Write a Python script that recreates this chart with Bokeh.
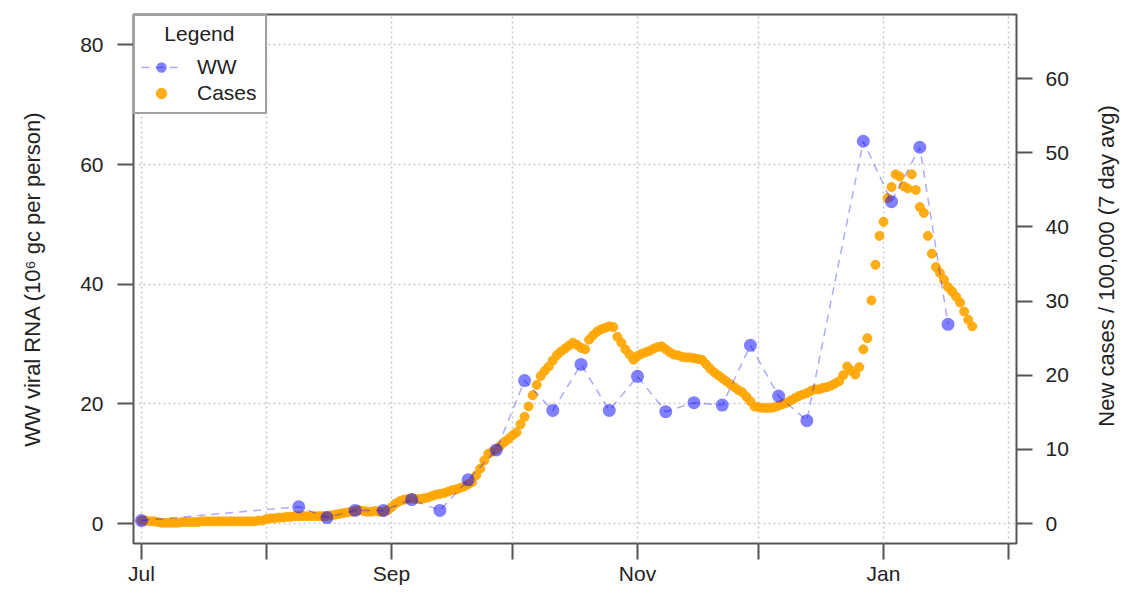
import math
import pandas as pd
from bokeh.plotting import figure
from bokeh.layouts import row
from bokeh.models import Range1d, LinearAxis, FixedTicker, Legend, LegendItem
from bokeh.core.properties import value
from bokeh.embed import file_html
from bokeh.resources import INLINE

# ---------------- data ----------------
ww_dates = ["2020-07-01", "2020-08-09", "2020-08-16", "2020-08-23", "2020-08-30",
            "2020-09-06", "2020-09-13", "2020-09-20", "2020-09-27", "2020-10-04",
            "2020-10-11", "2020-10-18", "2020-10-25", "2020-11-01", "2020-11-08",
            "2020-11-15", "2020-11-22", "2020-11-29", "2020-12-06", "2020-12-13",
            "2020-12-27", "2021-01-03", "2021-01-10", "2021-01-17"]
ww_values = [0.5, 2.8, 1.0, 2.2, 2.2,
             4.0, 2.2, 7.3, 12.3, 23.9,
             18.9, 26.6, 18.9, 24.6, 18.7,
             20.2, 19.8, 29.8, 21.3, 17.2,
             63.9, 53.8, 62.9, 33.3]

cases_start = "2020-07-01"
cases_values = [
    0.4, 0.4, 0.3, 0.3, 0.2, 0.1, 0.1, 0.1, 0.1, 0.1,
    0.2, 0.2, 0.2, 0.2, 0.2, 0.3, 0.3, 0.3, 0.3, 0.3,
    0.3, 0.3, 0.3, 0.3, 0.3, 0.3, 0.3, 0.3, 0.3, 0.4,
    0.4, 0.6, 0.7, 0.7, 0.8, 0.8, 0.9, 0.9, 1.0, 1.0,
    1.0, 1.0, 1.0, 1.0, 1.0, 1.0, 1.0, 1.1, 1.2, 1.3,
    1.4, 1.5, 1.6, 1.7, 1.8, 1.7, 1.6, 1.6, 1.7, 1.6,
    1.6, 1.8, 2.2, 2.7, 3.0, 3.2, 3.3, 3.4, 3.3, 3.3,
    3.4, 3.5, 3.7, 3.9, 4.0, 4.1, 4.3, 4.5, 4.6, 4.8,
    5.0, 5.3, 5.6, 6.5, 7.4, 8.5, 9.4, 9.7, 10.0, 10.5,
    11.0, 11.4, 11.9, 12.3, 13.4, 14.4, 15.8, 17.3, 18.7, 19.9,
    20.6, 21.2, 22.0, 22.7, 23.2, 23.6, 24.0, 24.4, 24.1, 23.7,
    23.5, 24.8, 25.4, 25.9, 26.2, 26.4, 26.6, 26.5, 25.2, 24.4,
    23.5, 22.8, 22.1, 22.6, 22.9, 23.1, 23.3, 23.6, 23.8, 23.9,
    23.5, 23.1, 22.8, 22.7, 22.5, 22.4, 22.4, 22.3, 22.2, 22.1,
    21.5, 20.9, 20.4, 20.0, 19.6, 19.2, 18.8, 18.4, 18.0, 17.7,
    17.1, 16.5, 15.8, 15.7, 15.6, 15.6, 15.6, 15.7, 15.9, 16.1,
    16.3, 16.6, 16.9, 17.2, 17.4, 17.6, 17.9, 18.1, 18.1, 18.3,
    18.4, 18.6, 18.9, 19.2, 20.0, 21.2, 20.6, 20.1, 21.1, 23.5,
    25.0, 30.1, 34.9, 38.8, 40.7, 43.9, 45.4, 47.1, 46.8, 45.5,
    45.2, 47.1, 45.0, 42.7, 41.9, 38.8, 36.4, 34.6, 33.8, 32.9,
    31.9, 31.3, 30.6, 29.8, 28.6, 27.5, 26.6,
]

month_ticks = ["2020-07-01", "2020-08-01", "2020-09-01", "2020-10-01",
               "2020-11-01", "2020-12-01", "2021-01-01", "2021-02-01"]
month_labels = ["Jul", "", "Sep", "", "Nov", "", "Jan", ""]
left_ticks = [0, 20, 40, 60, 80]
right_ticks = [0, 10, 20, 30, 40, 50, 60]

left_title = "WW viral RNA (10\u2076 gc per person)"
right_title = "New cases / 100,000 (7 day avg)"

# ---------------- build ----------------
ww_x = pd.to_datetime(ww_dates)
cases_x = pd.date_range(cases_start, periods=len(cases_values), freq="D")
tick_ms = [pd.Timestamp(t).timestamp() * 1000.0 for t in month_ticks]

t0 = pd.Timestamp("2020-07-01")
x0 = t0 - pd.Timedelta(hours=47.5)
x1 = t0 + pd.Timedelta(hours=216.98 * 24)

FONT = "Liberation Sans"
TXT = "#222222"
AX = "#555555"
H = 587
W_MAIN = 1090
W_SIDE = 30

p = figure(width=W_MAIN, height=H, x_axis_type="datetime",
           output_backend="svg", toolbar_location=None,
           x_range=Range1d(x0, x1), y_range=Range1d(-3.337, 85.09),
           min_border_left=133, min_border_right=W_MAIN - 1016,
           min_border_top=14, min_border_bottom=43)
p.extra_y_ranges = {"cases": Range1d(-2.69, 68.66)}

p.outline_line_color = AX
p.outline_line_width = 2
p.background_fill_color = "white"

for g in (p.xgrid[0], p.ygrid[0]):
    g.grid_line_color = "#c8c8c8"
    g.grid_line_dash = "2 3"
    g.grid_line_width = 1.5
p.xgrid[0].ticker = FixedTicker(ticks=tick_ms)
p.ygrid[0].ticker = FixedTicker(ticks=left_ticks)

r_cases = p.scatter(cases_x, cases_values, y_range_name="cases", size=9,
                    fill_color="#FFA500", line_color="#FFA500",
                    fill_alpha=0.9, line_alpha=0.9)
r_line = p.line(ww_x, ww_values, line_color="blue", line_alpha=0.33,
                line_dash="8 6", line_width=1.5)
r_ww = p.scatter(ww_x, ww_values, size=13, fill_color="blue",
                 fill_alpha=0.5, line_color=None)

right = LinearAxis(y_range_name="cases")
p.add_layout(right, "right")

xa = p.xaxis[0]
ya = p.yaxis[0]
xa.ticker = FixedTicker(ticks=tick_ms)
xa.major_label_overrides = {ms: lab for ms, lab in zip(tick_ms, month_labels)}
ya.ticker = FixedTicker(ticks=left_ticks)
right.ticker = FixedTicker(ticks=right_ticks)

for ax in (xa, ya, right):
    ax.axis_line_color = None
    ax.major_tick_line_color = AX
    ax.major_tick_line_width = 2
    ax.major_tick_out = 16
    ax.major_tick_in = 0
    ax.minor_tick_line_color = None
    ax.major_label_text_font = FONT
    ax.major_label_text_font_size = "21px"
    ax.major_label_text_color = TXT
    ax.axis_label_text_font = FONT
    ax.axis_label_text_font_size = "22px"
    ax.axis_label_text_font_style = "normal"
    ax.axis_label_text_color = TXT

xa.major_label_standoff = 2
ya.major_label_standoff = 14
right.major_label_standoff = 13
ya.axis_label = left_title
ya.axis_label_standoff = 32

legend = Legend(items=[LegendItem(label="WW", renderers=[r_line, r_ww]),
                       LegendItem(label="Cases", renderers=[r_cases])],
                location="top_left", title="\u00a0\u00a0\u00a0\u00a0Legend")
legend.margin = 0
legend.padding = 6
legend.spacing = 0
legend.glyph_width = 40
legend.glyph_height = 26
legend.label_standoff = 16
legend.label_width = 62
legend.label_text_font = FONT
legend.label_text_font_size = "21px"
legend.label_text_color = TXT
legend.title_text_font = FONT
legend.title_text_font_size = "21px"
legend.title_text_font_style = "normal"
legend.title_text_color = TXT
legend.title_standoff = 8
legend.border_line_color = "#444444"
legend.border_line_width = 2
legend.background_fill_color = "white"
legend.background_fill_alpha = 1.0
p.add_layout(legend)

# narrow strip holding the right-hand axis title (reads bottom-to-top)
side = figure(width=W_SIDE, height=H, output_backend="svg", toolbar_location=None,
              x_axis_type=None, y_axis_type=None,
              x_range=Range1d(0, W_SIDE), y_range=Range1d(0, H),
              min_border=0, min_border_left=0, min_border_right=0,
              min_border_top=0, min_border_bottom=0)
side.outline_line_color = None
side.text(x=[W_SIDE / 2 + 1], y=[H - 279], text=[right_title],
          angle=math.pi / 2, text_align="center", text_baseline="middle",
          text_font=value(FONT), text_font_size=value("22px"), text_color=TXT)

layout = row(p, side, spacing=0)
open("out.html", "w").write(file_html(layout, INLINE))
